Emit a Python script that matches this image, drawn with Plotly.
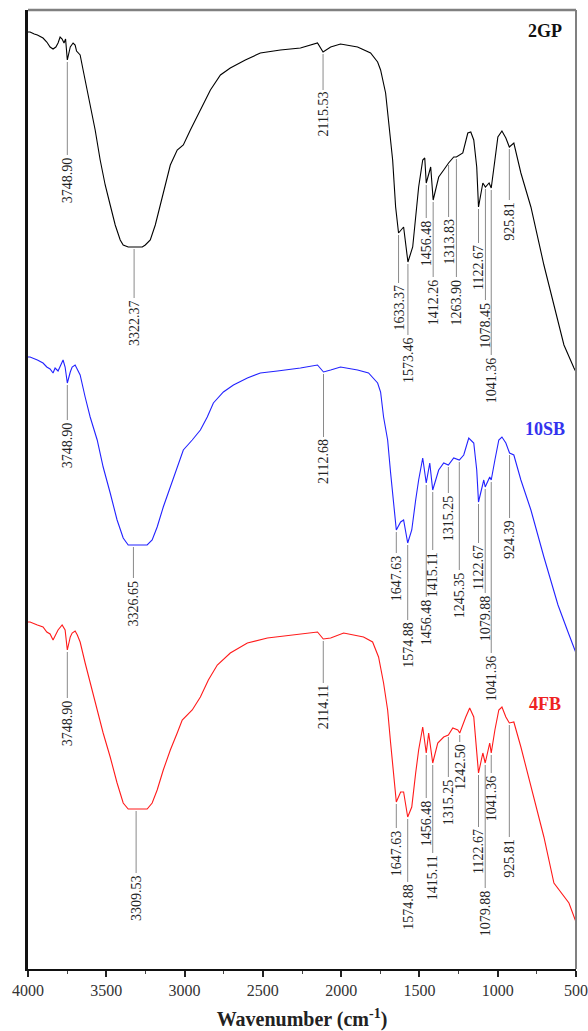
import plotly.graph_objects as go

# FTIR spectra, transmittance in arbitrary units (stacked traces)
wn_2gp = [4000, 3987, 3960, 3940, 3904, 3880, 3859, 3840, 3822, 3808, 3795, 3782, 3770, 3760, 3748.90, 3730,
          3712, 3699, 3690, 3667, 3648, 3635, 3603, 3571, 3539, 3507, 3475, 3443, 3411, 3392, 3360, 3322.37,
          3270, 3251, 3219, 3187, 3155, 3123, 3091, 3047, 3008, 2963, 2899, 2835, 2771, 2708, 2612, 2516,
          2388, 2260, 2151, 2115.53, 2067, 2004, 1895, 1812, 1767, 1748, 1716, 1697, 1671, 1652, 1633.37,
          1601, 1590, 1573.46, 1543, 1524, 1505, 1479, 1466, 1456.48, 1428, 1412.26, 1377, 1345, 1313.83,
          1281, 1263.90, 1223, 1191, 1172, 1153, 1134, 1122.67, 1095, 1078.45, 1055, 1041.36, 1018, 999,
          973, 948, 925.81, 897, 852, 788, 705, 641, 577, 513, 500]
t_2gp = [933, 933, 931, 930, 927, 923, 918, 916, 918, 922, 928, 926, 922, 926, 905, 918,
         922, 920, 914, 910, 895, 885, 860, 835, 805, 780, 760, 740, 725, 720, 718, 718,
         718, 720, 725, 740, 760, 780, 800, 815, 820, 835, 855, 875, 890, 897, 905, 912,
         915, 917, 922, 913, 918, 921, 918, 912, 903, 895, 872, 845, 805, 758, 732,
         738, 725, 703, 718, 748, 778, 805, 807, 782, 798, 765, 788, 795, 802,
         808, 808, 812, 832, 833, 825, 798, 758, 782, 778, 782, 777, 805, 828,
         834, 827, 818, 822, 792, 758, 700, 660, 620, 597, 593]

wn_10sb = [4000, 3987, 3940, 3904, 3880, 3859, 3840, 3827, 3808, 3790, 3776, 3763, 3748.90, 3730, 3718, 3699,
           3685, 3667, 3635, 3603, 3558, 3520, 3475, 3431, 3392, 3360, 3326.65, 3239, 3207, 3175, 3136,
           3091, 3047, 3008, 2951, 2899, 2855, 2816, 2752, 2688, 2599, 2516, 2407, 2260, 2151, 2112.68,
           2067, 2004, 1895, 1825, 1767, 1748, 1729, 1703, 1684, 1665, 1647.63, 1620, 1601, 1574.88, 1549,
           1524, 1505, 1479, 1456.48, 1434, 1415.11, 1377, 1345, 1315.25, 1281, 1245.35, 1217, 1185, 1153,
           1134, 1122.67, 1089, 1079.88, 1051, 1041.36, 1018, 993, 973, 948, 924.39, 897, 852, 788, 705,
           615, 551, 500]
t_10sb = [608, 608, 605, 602, 598, 596, 592, 597, 594, 600, 605, 598, 582, 593, 598, 600,
          596, 590, 568, 548, 525, 498, 472, 445, 427, 420, 420, 420, 425, 438, 458,
          478, 498, 515, 525, 535, 548, 562, 573, 580, 587, 592, 594, 597, 600, 593,
          595, 598, 595, 592, 582, 573, 548, 525, 492, 458, 435, 443, 445, 422, 435,
          465, 485, 507, 482, 502, 475, 495, 502, 500, 507, 505, 510, 527, 522,
          495, 463, 485, 478, 488, 485, 505, 525, 528, 522, 512, 510, 485, 455, 408,
          360, 333, 312]

wn_4fb = [4000, 3987, 3940, 3904, 3880, 3859, 3840, 3822, 3808, 3782, 3770, 3763, 3748.90, 3730, 3718, 3699,
          3685, 3667, 3635, 3603, 3558, 3520, 3475, 3431, 3392, 3360, 3309.53, 3239, 3207, 3175, 3136,
          3091, 3047, 3015, 2951, 2899, 2848, 2791, 2708, 2599, 2471, 2260, 2151, 2114.11, 2067, 1984,
          1857, 1799, 1761, 1729, 1703, 1684, 1665, 1647.63, 1620, 1601, 1574.88, 1549, 1524, 1505, 1479,
          1456.48, 1441, 1415.11, 1383, 1345, 1315.25, 1287, 1255, 1242.50, 1204, 1179, 1153, 1134,
          1122.67, 1095, 1079.88, 1051, 1041.36, 1018, 993, 973, 948, 925.81, 897, 852, 788, 705, 641,
          577, 545, 500]
t_4fb = [343, 343, 340, 338, 333, 331, 325, 330, 335, 340, 336, 335, 315, 328, 332, 334,
         330, 323, 302, 282, 255, 232, 208, 182, 162, 156, 156, 156, 162, 175, 195,
         215, 232, 245, 255, 268, 285, 300, 312, 322, 327, 331, 333, 326, 327, 332,
         328, 323, 308, 282, 255, 222, 188, 163, 173, 173, 148, 158, 192, 215, 238,
         212, 232, 202, 222, 228, 230, 237, 235, 232, 248, 257, 248, 215,
         192, 212, 202, 222, 212, 235, 255, 258, 248, 242, 243, 218, 178, 128, 82,
         68, 62, 43]

# Assigned band positions (cm-1) for each sample
peaks_2gp = [3748.90, 3322.37, 2115.53, 1633.37, 1573.46, 1456.48, 1412.26, 1313.83, 1263.90,
             1122.67, 1078.45, 1041.36, 925.81]
peaks_10sb = [3748.90, 3326.65, 2112.68, 1647.63, 1574.88, 1456.48, 1415.11, 1315.25, 1245.35,
              1122.67, 1079.88, 1041.36, 924.39]
peaks_4fb = [3748.90, 3309.53, 2114.11, 1647.63, 1574.88, 1456.48, 1415.11, 1315.25, 1242.50,
             1122.67, 1079.88, 1041.36, 925.81]

# Where each leader line ends and its label begins (y, same units as the spectra)
tails_2gp = [810, 667, 875, 682, 630, 747, 688, 748, 688, 722, 665, 610, 765]
tails_10sb = [545, 387, 528, 412, 345, 368, 415, 472, 395, 422, 372, 312, 447]
tails_4fb = [267, 92, 282, 137, 83, 167, 112, 188, 223, 138, 77, 192, 128]

x_ticks = [4000, 3500, 3000, 2500, 2000, 1500, 1000, 500]

SERIF = "Liberation Serif, Times New Roman, serif"

series = [
    ("2GP", wn_2gp, t_2gp, peaks_2gp, tails_2gp, "#000000", "#111111", 934),
    ("10SB", wn_10sb, t_10sb, peaks_10sb, tails_10sb, "#2222ff", "#3333ee", 536),
    ("4FB", wn_4fb, t_4fb, peaks_4fb, tails_4fb, "#ff1a1a", "#ee2222", 261),
]

fig = go.Figure()
shapes = []
annotations = []

for name, wn, tr, peaks, tails, color, name_color, name_y in series:
    fig.add_trace(go.Scatter(x=wn, y=tr, mode="lines", name=name,
                             line=dict(color=color, width=1.1), showlegend=False))
    for p, tail in zip(peaks, tails):
        y0 = tr[wn.index(p)]
        shapes.append(dict(type="line", xref="x", yref="y", x0=p, x1=p, y0=y0 - 2, y1=tail,
                           line=dict(color="#8a8a8a", width=1)))
        annotations.append(dict(x=p, y=tail, xref="x", yref="y", text=f"{p:.2f}",
                                textangle=-90, showarrow=False, xanchor="center", yanchor="top",
                                font=dict(family=SERIF, size=14, color="#222222")))
    annotations.append(dict(x=700, y=name_y, xref="x", yref="y", text=f"<b>{name}</b>",
                            showarrow=False, xanchor="center", yanchor="middle",
                            font=dict(family=SERIF, size=18, color=name_color)))

# top and right frame edges
shapes.append(dict(type="line", xref="paper", yref="paper", x0=0, x1=1, y0=1, y1=1,
                   line=dict(color="#808080", width=2.5)))
shapes.append(dict(type="line", xref="paper", yref="paper", x0=1, x1=1, y0=0, y1=1,
                   line=dict(color="#808080", width=2)))

fig.update_layout(
    width=588, height=1031,
    margin=dict(l=28, r=12, t=10, b=62),
    paper_bgcolor="white", plot_bgcolor="white",
    shapes=shapes, annotations=annotations,
    xaxis=dict(range=[4000, 500], tickvals=x_ticks, ticktext=[str(v) for v in x_ticks],
               automargin=False,
               ticks="outside", ticklen=6, tickwidth=1.5, tickcolor="#222",
               minor=dict(dtick=250, tick0=0, ticks="outside", ticklen=3, tickcolor="#444", tickwidth=1),
               showline=True, linecolor="#111", linewidth=2, mirror=False,
               showgrid=False, zeroline=False,
               tickfont=dict(family=SERIF, size=16, color="#333"),
               title=dict(text="<b>Wavenumber (cm<sup>-1</sup>)</b>",
                          font=dict(family=SERIF, size=20, color="#222"), standoff=14)),
    yaxis=dict(range=[-4, 955], showticklabels=False, ticks="", showgrid=False, zeroline=False,
               automargin=False,
               showline=True, linecolor="#111", linewidth=2.5, mirror=False),
)

fig.write_html("out.html")
